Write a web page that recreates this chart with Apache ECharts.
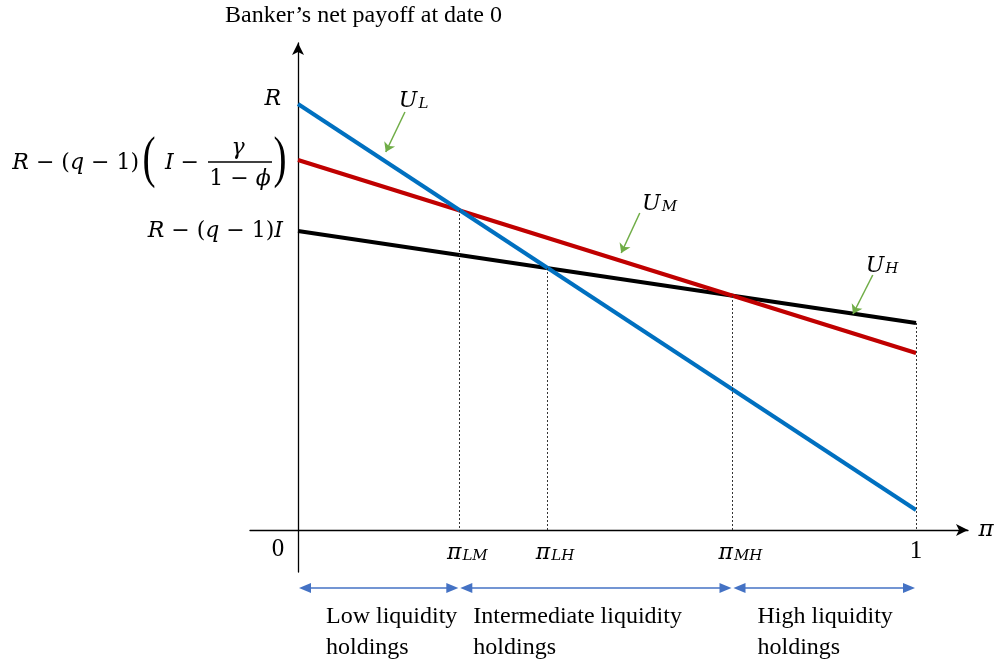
<!DOCTYPE html>
<html><head><meta charset="utf-8">
<script src="https://cdn.jsdelivr.net/npm/echarts@6/dist/echarts.min.js"></script>
<style>html,body{margin:0;padding:0;background:#fff}#c{width:997px;height:667px}</style>
</head><body><div id="c"></div>
<script>
// ---- data ----
const xEnds = [0, 1];
const uL = [4.26, 0.20];          // blue line U_L
const uM = [3.70, 1.77];          // red line U_M
const uH = [2.99, 2.07];          // black line U_H
const cutX = [0.261, 0.403, 0.703, 1];     // pi_LM, pi_LH, pi_MH, 1
const cutY = [3.20, 2.62, 2.34, 2.07];     // tops of dotted drop lines
const tickNames = ['LM', 'LH', 'MH', ''];  // subscripts of pi (last is "1")
const regionBounds = [0, 0.261, 0.703, 1];
const regionNames = [['Low liquidity', 'holdings'], ['Intermediate liquidity', 'holdings'], ['High liquidity', 'holdings']];
const curveNames = ['L', 'M', 'H'];
const curveLabelPos = [[0.187, 4.33], [0.585, 3.30], [0.945, 2.68]];
const curveArrows = [[[0.173, 4.18], [0.142, 3.78]], [[0.553, 3.17], [0.523, 2.77]], [[0.930, 2.55], [0.898, 2.16]]];
const yTitle = 'Banker\u2019s net payoff at date 0';

const SERIF = "'Liberation Serif','DejaVu Serif',serif";
const MATH = "'DejaVu Serif',serif";
const chart = echarts.init(document.getElementById('c'));

function pairs(ys) { return xEnds.map((x, i) => [x, ys[i]]); }

const dropLines = cutX.map((x, i) => [{ coord: [x, cutY[i]] }, { coord: [x, 0] }]);
const greenArrows = curveArrows.map(a => [{ coord: a[0] }, { coord: a[1] }]);

const mathRich = {
  p: { fontFamily: MATH, fontStyle: 'italic', fontSize: 22, color: '#000', lineHeight: 30, verticalAlign: 'bottom' },
  s: { fontFamily: MATH, fontStyle: 'italic', fontSize: 15, color: '#000', lineHeight: 28, verticalAlign: 'bottom', padding: [0, 0, 0, 1] },
  n: { fontFamily: SERIF, fontSize: 25, color: '#000', lineHeight: 30, verticalAlign: 'bottom' },
  w: { width: 16, fontSize: 10 }
};

chart.setOption({
  animation: false,
  grid: { left: 250, right: 29, top: 43, bottom: 95 },
  xAxis: {
    type: 'value', min: -0.0777, max: 1.0841,
    splitLine: { show: false },
    axisTick: { show: false },
    axisLine: { onZero: true, lineStyle: { color: '#000', width: 1.3 }, symbol: ['none', 'arrow'], symbolSize: [9, 12] },
    axisLabel: {
      customValues: cutX, margin: -38,
      formatter: function (v) {
        const i = cutX.indexOf(v);
        if (i < 0) return '';
        if (tickNames[i] === '') return '{n|1}';
        return '{w| }{p|\u03c0}{s|' + tickNames[i] + '}';
      },
      rich: mathRich
    }
  },
  yAxis: {
    type: 'value', min: -0.42, max: 4.87,
    splitLine: { show: false }, axisTick: { show: false }, axisLabel: { show: false },
    axisLine: { onZero: true, lineStyle: { color: '#000', width: 1.3 }, symbol: ['none', 'arrow'], symbolSize: [9, 12] }
  },
  series: [
    { type: 'line', data: pairs(uL), symbol: 'none', lineStyle: { color: '#0070C0', width: 4 }, z: 4,
      markLine: { silent: true, symbol: ['none', 'arrow'], symbolSize: 9, label: { show: false },
        lineStyle: { color: '#70AD47', width: 1.5, type: 'solid' }, data: greenArrows } },
    { type: 'line', data: pairs(uM), symbol: 'none', lineStyle: { color: '#C00000', width: 4 }, z: 3 },
    { type: 'line', data: pairs(uH), symbol: 'none', lineStyle: { color: '#000000', width: 4 }, z: 2,
      markLine: { silent: true, symbol: ['none', 'none'], label: { show: false },
        lineStyle: { color: '#333', width: 1, type: [2, 2] }, data: dropLines } }
  ]
});

// ---- text & decorations placed through the chart's own scales ----
const P = v => chart.convertToPixel({ gridIndex: 0 }, v);
const g = [];
const o = P([0, 0]);

// y title
g.push({ type: 'text', left: 225, top: 4, style: { text: yTitle, font: "24px " + SERIF, fill: '#000' } });
// origin "0" and pi at arrow
g.push({ type: 'text', x: o[0] - 20, y: o[1] + 19, style: { text: '0', fontFamily: SERIF, fontSize: 25, fill: '#000', align: 'center', verticalAlign: 'middle' } });
g.push({ type: 'text', x: 986, y: o[1], style: { text: '\u03c0', fontFamily: MATH, fontStyle: 'italic', fontSize: 23, fill: '#000', align: 'center', verticalAlign: 'middle' } });

// y-level labels
const pR = P([0, uL[0]]), pM = P([0, uM[0]]), pH = P([0, uH[0]]);
const richY = {
  i: { fontFamily: MATH, fontStyle: 'italic', fontSize: 22, fill: '#000' },
  u: { fontFamily: MATH, fontSize: 22, fill: '#000' }
};
g.push({ type: 'text', x: pR[0] - 17, y: pR[1] - 5, style: { text: '{i|R}', rich: richY, align: 'right', verticalAlign: 'middle' } });
g.push({ type: 'text', x: pH[0] - 15, y: pH[1], style: { text: '{i|R}{u| \u2212 (}{i|q}{u| \u2212 1)}{i|I}', rich: richY, align: 'right', verticalAlign: 'middle' } });
// fraction expression
const ax = pM[0], ay = pM[1];
g.push({ type: 'text', x: ax - 159, y: ay + 3, style: { text: '{i|R}{u| \u2212 (}{i|q}{u| \u2212 1)}', rich: richY, align: 'right', verticalAlign: 'middle' } });
g.push({ type: 'text', x: ax - 149, y: ay + 1, scaleX: 0.7, style: { text: '(', fontFamily: SERIF, fontSize: 56, fill: '#000', align: 'center', verticalAlign: 'middle' } });
g.push({ type: 'text', x: ax - 99, y: ay + 3, style: { text: '{i|I}{u| \u2212}', rich: richY, align: 'right', verticalAlign: 'middle' } });
g.push({ type: 'line', shape: { x1: ax - 90, y1: ay + 2, x2: ax - 26, y2: ay + 2 }, style: { stroke: '#000', lineWidth: 1.5 } });
g.push({ type: 'text', x: ax - 60, y: ay - 12, style: { text: '\u03b3', fontFamily: MATH, fontStyle: 'italic', fontSize: 22, fill: '#000', align: 'center', verticalAlign: 'middle' } });
g.push({ type: 'text', x: ax - 58, y: ay + 19, style: { text: '{u|1 \u2212 }{i|\u03d5}', rich: richY, align: 'center', verticalAlign: 'middle' } });
g.push({ type: 'text', x: ax - 18, y: ay + 1, scaleX: 0.7, style: { text: ')', fontFamily: SERIF, fontSize: 56, fill: '#000', align: 'center', verticalAlign: 'middle' } });

// curve labels
curveNames.forEach((n, i) => {
  const p = P(curveLabelPos[i]);
  g.push({ type: 'text', x: p[0], y: p[1], style: {
    text: '{a|U}{b|' + n + '}', align: 'center', verticalAlign: 'middle',
    rich: { a: { fontFamily: MATH, fontStyle: 'italic', fontSize: 22, fill: '#000', lineHeight: 30, verticalAlign: 'bottom' },
            b: { fontFamily: MATH, fontStyle: 'italic', fontSize: 15, fill: '#000', lineHeight: 28, verticalAlign: 'bottom', padding: [0, 0, 0, 1] } } } });
});

// region double arrows and labels
const blue = '#4472C4';
const ry = o[1] + 58;
for (let i = 0; i < 3; i++) {
  const a = P([regionBounds[i], 0])[0] + 1, b = P([regionBounds[i + 1], 0])[0] - 1;
  g.push({ type: 'line', shape: { x1: a + 6, y1: ry, x2: b - 6, y2: ry }, style: { stroke: blue, lineWidth: 1.6 } });
  g.push({ type: 'polygon', shape: { points: [[a, ry], [a + 12, ry - 5], [a + 12, ry + 5]] }, style: { fill: blue } });
  g.push({ type: 'polygon', shape: { points: [[b, ry], [b - 12, ry - 5], [b - 12, ry + 5]] }, style: { fill: blue } });
}
const regionLeft = [o[0] + 28, P([regionBounds[1], 0])[0] + 14, P([regionBounds[2], 0])[0] + 25];
regionNames.forEach((lines, i) => {
  lines.forEach((t, j) => {
    g.push({ type: 'text', x: regionLeft[i], y: o[1] + 87 + j * 31, style: { text: t, fontFamily: SERIF, fontSize: 24, fill: '#000', align: 'left', verticalAlign: 'middle' } });
  });
});

chart.setOption({ graphic: g });
</script>
</body></html>
